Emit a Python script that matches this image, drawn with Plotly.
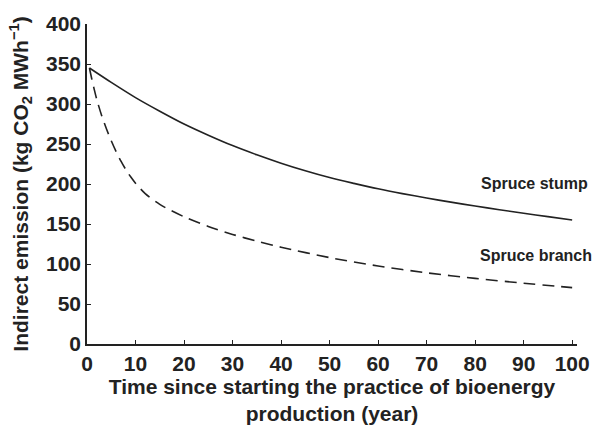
import plotly.graph_objects as go

# Data
stump_x = [0.5, 5, 10, 15, 20, 25, 30, 35, 40, 45, 50, 55, 60, 65, 70, 75, 80, 85, 90, 95, 100]
stump_y = [345, 327, 308, 291, 275, 261, 248, 236.5, 226, 216.5, 208, 200.8, 194, 188, 182.5, 177.3, 172.5, 167.9, 163.5, 159.2, 155]

branch_x = [0.5, 1, 1.5, 2, 3, 4, 5, 6, 7, 8, 9, 10, 12, 15, 20, 25, 30, 35, 40, 50, 60, 70, 80, 90, 100]
branch_y = [345, 331, 318, 306, 286, 269, 254, 240.5, 228.5, 218, 209, 201, 188, 174.5, 159, 147, 137, 128.5, 121, 108, 97.5, 89, 82, 76, 70.5]

x_ticks = [0, 10, 20, 30, 40, 50, 60, 70, 80, 90, 100]
y_ticks = [0, 50, 100, 150, 200, 250, 300, 350, 400]

FONT = "Liberation Sans, Arial, sans-serif"
INK = "#222222"

fig = go.Figure()
fig.add_trace(go.Scatter(x=stump_x, y=stump_y, mode="lines",
                         line=dict(color=INK, width=1.6, shape="spline", smoothing=0.8),
                         showlegend=False))
fig.add_trace(go.Scatter(x=branch_x, y=branch_y, mode="lines",
                         line=dict(color=INK, width=1.6, shape="spline", smoothing=0.8, dash="12px,7px"),
                         showlegend=False))

fig.add_annotation(x=1, xref="paper", y=201, yref="y", text="<b>Spruce stump</b>",
                   showarrow=False, xanchor="right", yanchor="middle",
                   font=dict(family=FONT, size=16, color=INK), xshift=13)
fig.add_annotation(x=1, xref="paper", y=111, yref="y", text="<b>Spruce branch</b>",
                   showarrow=False, xanchor="right", yanchor="middle",
                   font=dict(family=FONT, size=16, color=INK), xshift=17)

fig.update_layout(
    width=598, height=425,
    margin=dict(l=87, r=21, t=24, b=81),
    paper_bgcolor="white", plot_bgcolor="white",
    font=dict(family=FONT, size=21, color=INK),
)
fig.update_xaxes(range=[0, 101], tickvals=x_ticks, ticktext=[f"<b>{v}</b>" for v in x_ticks],
                 showline=True, linecolor=INK, linewidth=1.5, ticks="inside", ticklen=4,
                 tickcolor=INK, showgrid=False, zeroline=False, automargin=False,
                 tickfont=dict(family=FONT, size=21, color=INK),
                 title=dict(text="<b>Time since starting the practice of bioenergy<br>production (year)</b>",
                            font=dict(family=FONT, size=21, color=INK), standoff=8))
fig.update_yaxes(range=[0, 400], tickvals=y_ticks, ticktext=[f"<b>{v}</b>" for v in y_ticks],
                 showline=True, linecolor=INK, linewidth=1.5, ticks="inside", ticklen=4,
                 tickcolor=INK, showgrid=False, zeroline=False, automargin=False,
                 tickfont=dict(family=FONT, size=21, color=INK),
                 title=dict(text="<b>Indirect emission (kg CO<sub>2</sub> MWh<sup>\u22121</sup>)</b>",
                            font=dict(family=FONT, size=21, color=INK), standoff=12))

fig.write_html("out.html", config={"displayModeBar": False})

# remove the browser's default page margin so the figure sits at the window's corner
with open("out.html", encoding="utf-8") as f:
    html = f.read()
html = html.replace("<head>", "<head><style>html,body{margin:0;padding:0;overflow:hidden}</style>", 1)
with open("out.html", "w", encoding="utf-8") as f:
    f.write(html)
